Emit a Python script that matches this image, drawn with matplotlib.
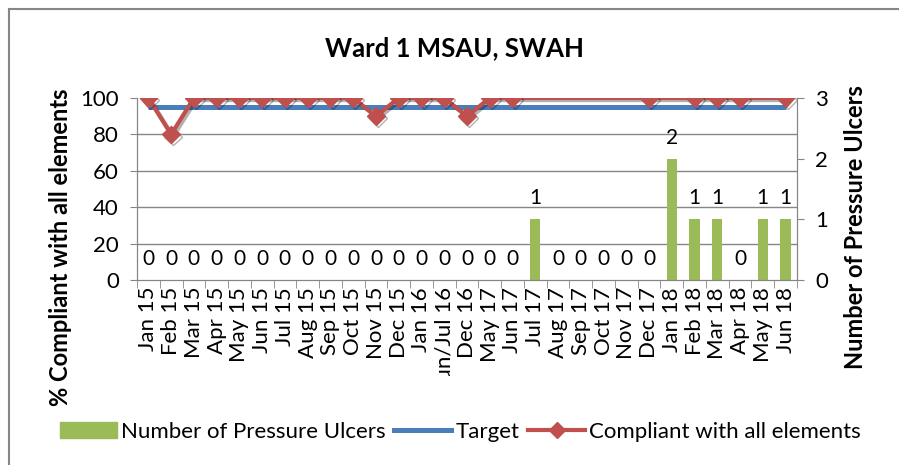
import numpy as np
import matplotlib
matplotlib.use("Agg")
import matplotlib.pyplot as plt
import matplotlib.patheffects as pe
from matplotlib.lines import Line2D
from matplotlib.transforms import Bbox, TransformedBbox, IdentityTransform

plt.rcParams['font.family'] = ['Lato', 'DejaVu Sans']

months = ["Jan 15", "Feb 15", "Mar 15", "Apr 15", "May 15", "Jun 15", "Jul 15",
          "Aug 15", "Sep 15", "Oct 15", "Nov 15", "Dec 15", "Jan 16", "Jun/Jul 16",
          "Dec 16", "May 17", "Jun 17", "Jul 17", "Aug 17", "Sep 17", "Oct 17",
          "Nov 17", "Dec 17", "Jan 18", "Feb 18", "Mar 18", "Apr 18", "May 18", "Jun 18"]
ulcers = [0, 0, 0, 0, 0, 0, 0, 0, 0, 0, 0, 0, 0, 0, 0, 0, 0,
          1, 0, 0, 0, 0, 0, 2, 1, 1, 0, 1, 1]
target = [95] * len(months)
nan = np.nan
compliant = [100, 80, 100, 100, 100, 100, 100, 100, 100, 100, 90, 100, 100, 100,
             90, 100, 100, nan, nan, nan, nan, nan, 100, nan, 100, 100, 100, nan, 100]

green = "#9BBB59"
blue = "#4A7EBB"
red = "#C0504D"
gray = "#868686"

fig = plt.figure(figsize=(8.99, 4.65), dpi=100)
ax2 = fig.add_axes([0.1524, 0.3978, 0.7341, 0.3914])
ax = ax2.twinx()
# keep the lines above the bars
ax.set_zorder(ax2.get_zorder() + 1)
ax.patch.set_visible(False)

x = np.arange(len(months))

# bars on the right scale
bars = ax2.bar(x, ulcers, width=0.45, color=green, zorder=2)
ax2.bar_label(bars, padding=8, fontsize=15)
ax2.set_ylim(0, 3)
ax2.set_xlim(-0.5, len(months) - 0.5)
ax2.yaxis.tick_right()
ax2.yaxis.set_label_position("right")
ax2.set_yticks([0, 1, 2, 3])
ax2.set_yticks([0.6, 1.2, 1.8, 2.4, 3.0], minor=True)
ax2.yaxis.grid(True, which="minor", color=gray, lw=1, zorder=0)
ax2.tick_params(axis="y", which="minor", length=0)
ax2.tick_params(axis="y", which="major", length=5, color=gray, labelsize=16, pad=8)
ax2.set_ylabel("Number of Pressure Ulcers", fontsize=17, fontweight="bold")
ax2.yaxis.set_label_coords(1.072, 0.29)

# the left scale drawn on the other side
ax.yaxis.tick_left()
ax.yaxis.set_label_position("left")
ax.set_ylim(0, 100)
ax.set_yticks(range(0, 101, 20))
ax.tick_params(axis="y", length=5, color=gray, labelsize=16, pad=8)
ax.set_ylabel("% Compliant with all elements", fontsize=17, fontweight="bold")
ax.yaxis.set_label_coords(-0.098, 0.18)

ax.plot(x, target, color=blue, lw=3.6, solid_capstyle="butt")
cx = np.array([i for i, v in enumerate(compliant) if not np.isnan(v)])
cy = np.array([compliant[i] for i in cx])
ax.plot(cx, cy, color=red, lw=3, marker="D", ms=9,
        path_effects=[pe.SimpleLineShadow(offset=(1.5, -1.5), alpha=0.3), pe.Normal()])

ax2.set_xticks(x)
ax2.set_xticklabels(months, rotation=90, fontsize=16)
ax2.set_xticks(np.arange(-0.5, len(months)), minor=True)
ax2.tick_params(axis="x", which="major", length=0, pad=5)
ax2.tick_params(axis="x", which="minor", length=6, color=gray)

# the long label is cut off at the bottom, as in the original
clip = TransformedBbox(Bbox([[0, 89], [899, 465]]), IdentityTransform())
for lab in ax2.get_xticklabels():
    lab.set_clip_box(clip)
    lab.set_clip_on(True)

for a in (ax, ax2):
    a.spines["top"].set_visible(False)
    for s in ("left", "right", "bottom"):
        a.spines[s].set_color(gray)

fig.text(0.506, 0.897, "Ward 1 MSAU, SWAH", ha="center", va="center",
         fontsize=18.5, fontweight="bold")

handles = [plt.Rectangle((0, 0), 1, 1, color=green),
           Line2D([], [], color=blue, lw=3.6),
           Line2D([], [], color=red, lw=3, marker="D", ms=8)]
fig.legend(handles, ["Number of Pressure Ulcers", "Target", "Compliant with all elements"],
           loc="center", bbox_to_anchor=(0.512, 0.071), ncol=3, frameon=False,
           fontsize=16, handlelength=2.56, handletextpad=0.18, columnspacing=0.4,
           handleheight=0.7)

# chart border
fig.add_artist(Line2D([8.5 / 899, 1], [1 - 9.5 / 465, 1 - 9.5 / 465], color=gray, lw=1.5))
fig.add_artist(Line2D([8.5 / 899, 8.5 / 899], [0, 1 - 9.5 / 465], color=gray, lw=1.5))

fig.savefig("out.png", dpi=100)
